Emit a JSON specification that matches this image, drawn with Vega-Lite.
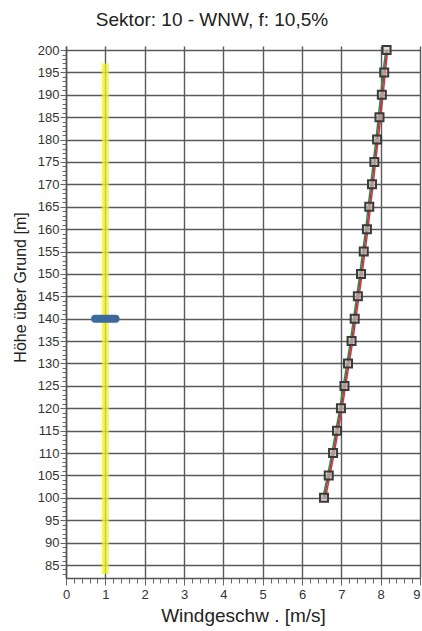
{
  "$schema": "https://vega.github.io/schema/vega-lite/v6.json",
  "autosize": "none",
  "width": 354,
  "height": 532,
  "padding": {"left": 66, "top": 46, "right": 2, "bottom": 53},
  "background": "white",
  "title": {
    "text": "Sektor: 10 - WNW, f: 10,5%",
    "font": "Liberation Sans",
    "fontSize": 19,
    "fontWeight": "normal",
    "color": "#222222",
    "anchor": "middle",
    "dx": -31,
    "offset": 12
  },
  "config": {
    "view": {"stroke": null},
    "axis": {
      "labelFont": "Liberation Sans",
      "titleFont": "Liberation Sans",
      "titleFontWeight": "normal",
      "titleColor": "#222222",
      "labelColor": "#333333",
      "domainColor": "#555555",
      "domainWidth": 1.5,
      "tickColor": "#666666",
      "labelOverlap": false,
      "labelFlush": false
    }
  },
  "data": {
    "values": [
      {"series": "mast", "h": 100, "v": 6.56}, {"series": "mast", "h": 105, "v": 6.68}, {"series": "mast", "h": 110, "v": 6.79},
      {"series": "mast", "h": 115, "v": 6.89}, {"series": "mast", "h": 120, "v": 6.99}, {"series": "mast", "h": 125, "v": 7.08},
      {"series": "mast", "h": 130, "v": 7.17}, {"series": "mast", "h": 135, "v": 7.26}, {"series": "mast", "h": 140, "v": 7.34},
      {"series": "mast", "h": 145, "v": 7.42}, {"series": "mast", "h": 150, "v": 7.50}, {"series": "mast", "h": 155, "v": 7.57},
      {"series": "mast", "h": 160, "v": 7.65}, {"series": "mast", "h": 165, "v": 7.71}, {"series": "mast", "h": 170, "v": 7.78},
      {"series": "mast", "h": 175, "v": 7.84}, {"series": "mast", "h": 180, "v": 7.91}, {"series": "mast", "h": 185, "v": 7.97},
      {"series": "mast", "h": 190, "v": 8.03}, {"series": "mast", "h": 195, "v": 8.09}, {"series": "mast", "h": 200, "v": 8.15},
      {"series": "fit", "h": 100, "v": 6.53}, {"series": "fit", "h": 105, "v": 6.65}, {"series": "fit", "h": 110, "v": 6.76},
      {"series": "fit", "h": 115, "v": 6.86}, {"series": "fit", "h": 120, "v": 6.96}, {"series": "fit", "h": 125, "v": 7.05},
      {"series": "fit", "h": 130, "v": 7.14}, {"series": "fit", "h": 135, "v": 7.23}, {"series": "fit", "h": 140, "v": 7.31},
      {"series": "fit", "h": 145, "v": 7.39}, {"series": "fit", "h": 150, "v": 7.47}, {"series": "fit", "h": 155, "v": 7.54},
      {"series": "fit", "h": 160, "v": 7.62}, {"series": "fit", "h": 165, "v": 7.68}, {"series": "fit", "h": 170, "v": 7.75},
      {"series": "fit", "h": 175, "v": 7.81}, {"series": "fit", "h": 180, "v": 7.88}, {"series": "fit", "h": 185, "v": 7.94},
      {"series": "fit", "h": 190, "v": 8.00}, {"series": "fit", "h": 195, "v": 8.06}, {"series": "fit", "h": 200, "v": 8.13},
      {"series": "log", "h": 100, "v": 6.60}, {"series": "log", "h": 105, "v": 6.71}, {"series": "log", "h": 110, "v": 6.82},
      {"series": "log", "h": 115, "v": 6.92}, {"series": "log", "h": 120, "v": 7.02}, {"series": "log", "h": 125, "v": 7.11},
      {"series": "log", "h": 130, "v": 7.20}, {"series": "log", "h": 135, "v": 7.29}, {"series": "log", "h": 140, "v": 7.37},
      {"series": "log", "h": 145, "v": 7.45}, {"series": "log", "h": 150, "v": 7.53}, {"series": "log", "h": 155, "v": 7.60},
      {"series": "log", "h": 160, "v": 7.68}, {"series": "log", "h": 165, "v": 7.74}, {"series": "log", "h": 170, "v": 7.81},
      {"series": "log", "h": 175, "v": 7.87}, {"series": "log", "h": 180, "v": 7.94}, {"series": "log", "h": 185, "v": 8.00},
      {"series": "log", "h": 190, "v": 8.06}, {"series": "log", "h": 195, "v": 8.12}, {"series": "log", "h": 200, "v": 8.18}
    ]
  },
  "encoding": {
    "x": {
      "field": "v",
      "type": "quantitative",
      "scale": {"domain": [0, 9], "nice": false, "zero": false},
      "axis": {
        "title": "Windgeschw . [m/s]",
        "titleFontSize": 19,
        "titlePadding": 5,
        "labelFontSize": 13,
        "labelPadding": 3,
        "labelAlign": {"condition": {"test": "datum.value === 9", "value": "right"}, "value": "center"},
        "labelExpr": "datum.value % 1 === 0 ? format(datum.value, 'd') : ''",
        "values": [0,0.2,0.4,0.6,0.8,1,1.2,1.4,1.6,1.8,2,2.2,2.4,2.6,2.8,3,3.2,3.4,3.6,3.8,4,4.2,4.4,4.6,4.8,5,5.2,5.4,5.6,5.8,6,6.2,6.4,6.6,6.8,7,7.2,7.4,7.6,7.8,8,8.2,8.4,8.6,8.8,9],
        "grid": true,
        "gridColor": "#5a5a5a",
        "gridWidth": 1.4,
        "gridOpacity": {"condition": {"test": "datum.value % 1 === 0", "value": 1}, "value": 0},
        "tickSize": {"condition": {"test": "datum.value % 1 === 0", "value": 7}, "value": 5},
        "tickWidth": 1
      }
    },
    "y": {
      "field": "h",
      "type": "quantitative",
      "scale": {"domain": [82.1, 200.9], "nice": false, "zero": false},
      "axis": {
        "title": "Höhe über Grund [m]",
        "titleFontSize": 16,
        "titleX": -38,
        "titleY": 241,
        "titleAngle": -90,
        "titleBaseline": "bottom",
        "titleAlign": "center",
        "labelFontSize": 13,
        "labelPadding": 1,
        "labelExpr": "datum.value % 5 === 0 ? datum.label : ''",
        "values": [83,84,85,86,87,88,89,90,91,92,93,94,95,96,97,98,99,100,101,102,103,104,105,106,107,108,109,110,111,112,113,114,115,116,117,118,119,120,121,122,123,124,125,126,127,128,129,130,131,132,133,134,135,136,137,138,139,140,141,142,143,144,145,146,147,148,149,150,151,152,153,154,155,156,157,158,159,160,161,162,163,164,165,166,167,168,169,170,171,172,173,174,175,176,177,178,179,180,181,182,183,184,185,186,187,188,189,190,191,192,193,194,195,196,197,198,199,200],
        "grid": true,
        "gridColor": "#5a5a5a",
        "gridWidth": 1.4,
        "gridOpacity": {"condition": {"test": "datum.value % 5 === 0", "value": 1}, "value": 0},
        "tickSize": {"condition": {"test": "datum.value % 5 === 0", "value": 6}, "value": 4},
        "tickWidth": 1
      }
    }
  },
  "layer": [
    {
      "data": {"values": [{"v": 1, "h": 83, "h2": 197}]},
      "mark": {"type": "rule", "color": "#f2f020", "strokeWidth": 7, "opacity": 0.75},
      "encoding": {"y2": {"field": "h2"}}
    },
    {
      "data": {"values": [{"h": 140, "v": 0.74, "v2": 1.26}]},
      "mark": {"type": "rule", "color": "#3d6a9c", "strokeWidth": 8, "strokeCap": "round"},
      "encoding": {"x2": {"field": "v2"}}
    },
    {
      "mark": {"type": "line", "strokeWidth": 1.5},
      "encoding": {
        "color": {
          "field": "series",
          "type": "nominal",
          "scale": {"domain": ["mast", "fit", "log"], "range": ["#8a4a26", "#2e8b5a", "#e0304a"]},
          "legend": null
        },
        "order": {"field": "h", "type": "quantitative"}
      }
    },
    {
      "transform": [{"filter": "datum.series === 'mast'"}],
      "mark": {"type": "point", "shape": "square", "size": 64, "filled": false, "fill": "#c9c4c0", "fillOpacity": 0.6, "stroke": "#3a3a3a", "strokeWidth": 2, "opacity": 1}
    }
  ]
}
